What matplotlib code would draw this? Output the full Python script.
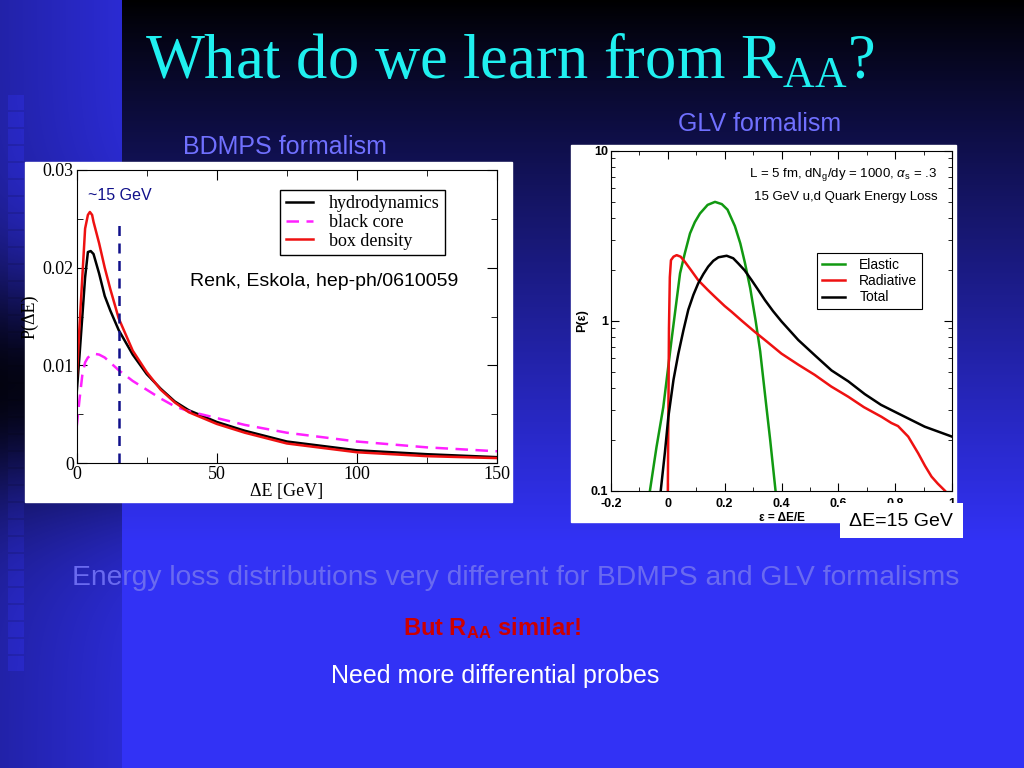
import numpy as np
import matplotlib
matplotlib.use("Agg")
from matplotlib import pyplot as plt
from matplotlib.patches import Rectangle
from matplotlib.ticker import MultipleLocator, FuncFormatter, LogLocator

plt.rcParams['mathtext.fontset'] = 'custom'
plt.rcParams['mathtext.rm'] = 'Liberation Serif'
plt.rcParams['mathtext.sf'] = 'Liberation Sans'
plt.rcParams['mathtext.it'] = 'Liberation Sans:italic'
plt.rcParams['mathtext.bf'] = 'Liberation Sans:bold'

# ---- left panel: BDMPS, P(dE) vs dE [GeV]
hydro_x = [0, 1, 2, 3, 4, 5, 6, 8, 10, 12, 15, 20, 25, 30, 35, 40, 50, 60, 75, 100, 125, 150]
hydro_y = [0.0072, 0.0110, 0.0150, 0.0190, 0.0216, 0.0217, 0.0214, 0.0194, 0.0171, 0.0156, 0.0136,
           0.0111, 0.0091, 0.0076, 0.0063, 0.0054, 0.0042, 0.0033, 0.0022, 0.0013, 0.0009, 0.0006]
box_x = [0, 1, 2, 3, 4, 4.7, 5.5, 6, 8, 10, 12, 15, 20, 25, 30, 35, 40, 50, 60, 75, 100, 125, 150]
box_y = [0.0085, 0.0140, 0.0190, 0.0240, 0.0254, 0.0257, 0.0254, 0.0247, 0.0225, 0.0200, 0.0178,
         0.0148, 0.0115, 0.0093, 0.0075, 0.0062, 0.0052, 0.0040, 0.0031, 0.0020, 0.0011, 0.0007, 0.0005]
core_x = [0, 1, 2, 3, 4, 6, 8, 10, 15, 20, 25, 30, 35, 40, 50, 60, 75, 100, 125, 150]
core_y = [0.0037, 0.0065, 0.0090, 0.0103, 0.0108, 0.0112, 0.0111, 0.0108, 0.0095, 0.0084, 0.0075,
          0.0066, 0.0058, 0.0053, 0.0046, 0.0039, 0.0031, 0.0022, 0.0016, 0.0012]
cut_x = 15
cut_top = 0.0251

# ---- right panel: GLV, P(eps) vs eps
el_x = [-0.063, -0.04, -0.016, 0.013, 0.043, 0.06, 0.078, 0.095, 0.113, 0.14, 0.166, 0.19, 0.21,
        0.236, 0.255, 0.271, 0.29, 0.309, 0.325, 0.347, 0.36, 0.379]
el_y = [0.1, 0.18, 0.31, 0.77, 1.9, 2.5, 3.26, 3.8, 4.27, 4.8, 5.0, 4.85, 4.5,
        3.6, 2.85, 2.2, 1.55, 1.0, 0.66, 0.31, 0.2, 0.1]
rad_x = [0.0, 0.002, 0.004, 0.007, 0.011, 0.02, 0.031, 0.045, 0.06, 0.08, 0.107, 0.14, 0.166, 0.2,
         0.224, 0.26, 0.306, 0.35, 0.40, 0.46, 0.517, 0.575, 0.635, 0.69, 0.752, 0.787, 0.81,
         0.846, 0.881, 0.905, 0.928, 0.95, 0.975]
rad_y = [0.1, 0.3, 0.9, 1.8, 2.27, 2.38, 2.43, 2.38, 2.22, 2.0, 1.73, 1.52, 1.38, 1.22,
         1.13, 1.0, 0.86, 0.75, 0.64, 0.55, 0.48, 0.41, 0.357, 0.31, 0.272, 0.25, 0.24,
         0.208, 0.166, 0.14, 0.121, 0.11, 0.1]
tot_x = [-0.025, -0.01, 0.0016, 0.02, 0.037, 0.055, 0.072, 0.09, 0.107, 0.125, 0.142, 0.16, 0.178,
         0.207, 0.23, 0.248, 0.27, 0.295, 0.32, 0.342, 0.37, 0.40, 0.459, 0.52, 0.576, 0.635,
         0.693, 0.75, 0.81, 0.904, 1.0]
tot_y = [0.1, 0.17, 0.27, 0.45, 0.64, 0.88, 1.16, 1.42, 1.66, 1.88, 2.08, 2.25, 2.36,
         2.41, 2.33, 2.17, 1.98, 1.73, 1.50, 1.32, 1.14, 0.99, 0.77, 0.62, 0.51, 0.44,
         0.37, 0.32, 0.285, 0.238, 0.208]


def slide_background():
    H, W = 768, 1024
    main = np.array([50, 50, 245]) / 255.0
    yy, xx = np.mgrid[0:H, 0:W]
    t = np.clip(yy / 540.0, 0, 1) ** 0.9
    img = main[None, None, :] * t[:, :, None]
    # left strip
    strip = xx < 122
    f = 1 - 0.9 * np.exp(-((yy - 385) / 120.0) ** 2)
    g = 0.8 + 0.2 * np.clip(xx / 122.0, 0, 1)
    sq = np.zeros((H, W), bool)
    for y0 in range(95, 660, 17):
        sq |= (xx >= 8) & (xx < 24) & (yy >= y0) & (yy < y0 + 15)
    k = np.where(sq, 0.97, 0.86) * f * g
    img[strip] = (main[None, :] * k[strip][:, None])
    return img


fig = plt.figure(figsize=(10.24, 7.68), dpi=100)
bg = fig.add_axes([0, 0, 1, 1])
bg.imshow(slide_background(), extent=(0, 1024, 768, 0), aspect='auto')
bg.set_xlim(0, 1024)
bg.set_ylim(768, 0)
bg.axis('off')
bg.add_patch(Rectangle((25, 162), 487, 340, color='white'))
bg.add_patch(Rectangle((571, 145), 385, 377, color='white'))

bg.text(510, 63, r"What do we learn from R$_{\rm AA}$?", color='#20f0f0', fontsize=45,
        family='Liberation Serif', ha='center', va='center')
bg.text(285, 147, "BDMPS formalism", color='#7070ff', fontsize=18, family='Liberation Sans',
        ha='center', va='center')
bg.text(760, 124, "GLV formalism", color='#7070ff', fontsize=18, family='Liberation Sans',
        ha='center', va='center')
bg.text(516, 578, "Energy loss distributions very different for BDMPS and GLV formalisms",
        color='#6a6af0', fontsize=20.3, family='Liberation Sans', ha='center', va='center')
bg.text(492, 628, r"But R$_{\mathbf{AA}}$ similar!", color='#cc0000', fontsize=17,
        family='Liberation Sans', weight='bold', ha='center', va='center')
bg.text(495, 676, "Need more differential probes", color='white', fontsize=18,
        family='Liberation Sans', ha='center', va='center')

# left plot
ax1 = fig.add_axes([76.7 / 1024, 1 - 463 / 768, 420.3 / 1024, 293 / 768])
ax1.plot(hydro_x, hydro_y, color='black', lw=1.8, label='hydrodynamics')
ax1.plot(core_x, core_y, color='#ff20ff', lw=1.8, ls=(0, (5, 3)), label='black core')
ax1.plot(box_x, box_y, color='#ee1111', lw=1.8, label='box density')
ax1.plot([cut_x, cut_x], [0, cut_top], color='#10108a', lw=1.8, ls=(0, (4, 3)))
ax1.text(4.2, 0.0274, "~15 GeV", color='#10108a', fontsize=11.5, family='Liberation Sans',
         va='center')
ax1.text(40.4, 0.0186, "Renk, Eskola, hep-ph/0610059", fontsize=14, family='Liberation Sans',
         va='center')
ax1.set_xlim(0, 150)
ax1.set_ylim(0, 0.03)
ax1.xaxis.set_major_locator(MultipleLocator(50))
ax1.xaxis.set_minor_locator(MultipleLocator(25))
ax1.yaxis.set_major_locator(MultipleLocator(0.01))
ax1.yaxis.set_minor_locator(MultipleLocator(0.005))
ax1.yaxis.set_major_formatter(FuncFormatter(lambda v, p: "%g" % round(v, 4)))
ax1.tick_params(which='both', direction='in', top=True, right=True, labelsize=13, pad=2)
ax1.tick_params(which='major', length=7)
ax1.tick_params(which='minor', length=4)
for lab in ax1.get_xticklabels() + ax1.get_yticklabels():
    lab.set_family('Liberation Serif')
ax1.set_xlabel("ΔE [GeV]", family='Liberation Serif', fontsize=13, labelpad=0)
ax1.set_ylabel("P(ΔE)", family='Liberation Serif', fontsize=13, labelpad=3)
leg1 = ax1.legend(loc='upper right', bbox_to_anchor=(0.877, 0.933), borderaxespad=0,
                  prop={'family': 'Liberation Serif', 'size': 13}, fancybox=False,
                  edgecolor='black', framealpha=1, handlelength=1.5, handletextpad=0.9,
                  labelspacing=0.1, borderpad=0.3)
leg1.get_frame().set_linewidth(1)

# right plot
ax2 = fig.add_axes([611 / 1024, 1 - 490.7 / 768, 341 / 1024, 340 / 768])
ax2.plot(el_x, el_y, color='#119911', lw=1.8, label='Elastic')
ax2.plot(rad_x, rad_y, color='#ee1111', lw=1.8, label='Radiative')
ax2.plot(tot_x, tot_y, color='black', lw=1.8, label='Total')
ax2.set_yscale('log')
ax2.set_xlim(-0.2, 1.0)
ax2.set_ylim(0.1, 10)
ax2.xaxis.set_major_locator(MultipleLocator(0.2))
ax2.xaxis.set_minor_locator(MultipleLocator(0.1))
ax2.xaxis.set_major_formatter(FuncFormatter(lambda v, p: "%g" % round(v, 3)))
ax2.yaxis.set_major_formatter(FuncFormatter(lambda v, p: "%g" % v))
ax2.yaxis.set_minor_locator(LogLocator(subs=np.arange(2, 10)))
ax2.yaxis.set_minor_formatter(FuncFormatter(lambda v, p: ""))
ax2.tick_params(which='both', direction='in', top=True, right=True, labelsize=9, pad=2)
ax2.tick_params(axis='x', which='major', pad=5)
ax2.tick_params(which='major', length=6)
ax2.tick_params(which='minor', length=3)
for lab in ax2.get_xticklabels() + ax2.get_yticklabels():
    lab.set_family('Liberation Sans')
    lab.set_weight('bold')
ax2.set_xlabel("ε = ΔE/E", family='Liberation Sans', weight='bold', fontsize=8.5, labelpad=2)
ax2.set_ylabel("P(ε)", family='Liberation Sans', weight='bold', fontsize=9, labelpad=2)
ax2.text(0.957, 0.929, r"L = 5 fm, dN$_{\mathsf{g}}$/dy = 1000, $\alpha_{\mathsf{s}}$ = .3",
         transform=ax2.transAxes, ha='right', va='center', fontsize=9.5, family='Liberation Sans')
ax2.text(0.957, 0.864, "15 GeV u,d Quark Energy Loss", transform=ax2.transAxes, ha='right',
         va='center', fontsize=9.5, family='Liberation Sans')
leg2 = ax2.legend(loc='upper right', bbox_to_anchor=(0.913, 0.698), borderaxespad=0,
                  prop={'family': 'Liberation Sans', 'size': 10}, fancybox=False,
                  edgecolor='black', framealpha=1, handlelength=1.7, handletextpad=1.0,
                  labelspacing=0.15, borderpad=0.35)
leg2.get_frame().set_linewidth(0.8)

fig.add_artist(Rectangle((840 / 1024, 1 - 538 / 768), 123 / 1024, 35 / 768,
                         transform=fig.transFigure, facecolor='white', edgecolor='none', zorder=5))
fig.text(901 / 1024, 1 - 521 / 768, "ΔE=15 GeV", ha='center', va='center', fontsize=14,
         family='Liberation Sans', zorder=6)

fig.savefig('out.png', dpi=100)
